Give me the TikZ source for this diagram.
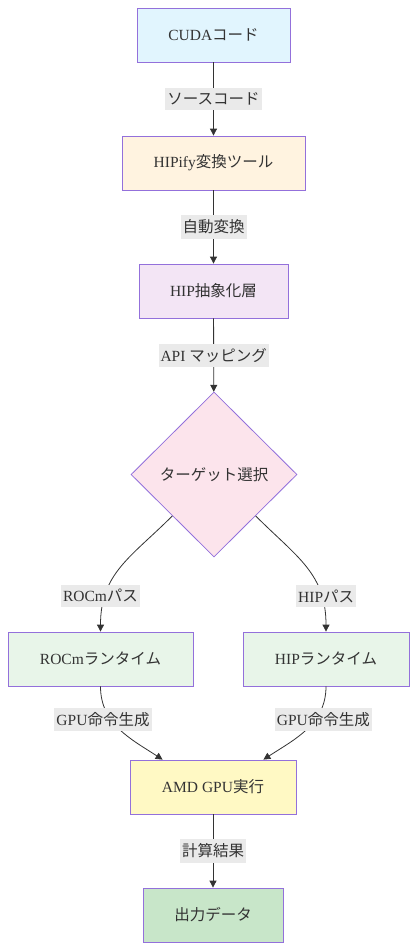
\documentclass[tikz,border=0pt]{standalone}
\usepackage{fontspec}
\setmainfont{Liberation Serif}
\newfontfamily\jp{Noto Sans CJK JP}
\usetikzlibrary{shapes.geometric,arrows.meta}
\definecolor{edgegray}{HTML}{333333}
\definecolor{boxline}{HTML}{9370DB}
\definecolor{lblbg}{HTML}{EAEAEA}
\definecolor{cudafill}{HTML}{E1F5FE}
\definecolor{hipifyfill}{HTML}{FFF3E0}
\definecolor{absfill}{HTML}{F3E5F5}
\definecolor{selfill}{HTML}{FCE4EC}
\definecolor{rtfill}{HTML}{E8F5E9}
\definecolor{gpufill}{HTML}{FFF9C4}
\definecolor{outfill}{HTML}{C8E6C9}
\begin{document}
\begin{tikzpicture}[x=1pt, y=1pt,
		font=\fontsize{15.5}{18}\selectfont, text=edgegray,
		box/.style={draw=boxline, line width=0.8pt, minimum height=54pt, inner sep=0pt},
		choice/.style={diamond, draw=boxline, line width=0.8pt, aspect=1, inner sep=0pt, minimum width=166pt, minimum height=165pt, fill=selfill},
		lbl/.style={fill=lblbg, inner xsep=2pt, inner ysep=4.5pt},
		flow/.style={draw=edgegray, line width=0.8pt, -{Triangle[length=7pt, width=7pt]}}]
	\useasboundingbox (0,0) rectangle (417,-950);
	\node[box, fill=cudafill, minimum width=153pt] (cuda) at (213.5,-35) {CUDA{\jp コード}};
	\node[box, fill=hipifyfill, minimum width=183pt] (hipify) at (213.5,-163) {HIPify{\jp 変換ツール}};
	\node[box, fill=absfill, minimum width=149pt] (hipabs) at (213.5,-291) {HIP{\jp 抽象化層}};
	\node[choice] (target) at (214,-474.5) {\jp ターゲット選択};
	\node[box, fill=rtfill, minimum width=185pt] (rocmrt) at (100.5,-659) {ROCm{\jp ランタイム}};
	\node[box, fill=rtfill, minimum width=166pt] (hiprt) at (326,-659) {HIP{\jp ランタイム}};
	\node[box, fill=gpufill, minimum width=166pt] (amdgpu) at (213,-787) {AMD GPU{\jp 実行}};
	\node[box, fill=outfill, minimum width=140pt] (output) at (213,-915) {\jp 出力データ};
	\draw[flow] (cuda) -- node[lbl] {\jp ソースコード} (hipify);
	\draw[flow] (hipify) -- node[lbl] {\jp 自動変換} (hipabs);
	\draw[flow] (hipabs) -- node[lbl] {API {\jp マッピング}} (target);
	\draw[flow] (target.south west) to[out=-135, in=90, looseness=1.1] node[lbl, pos=0.76, xshift=-5pt] {ROCm{\jp パス}} (rocmrt.north);
	\draw[flow] (target.south east) to[out=-45, in=90, looseness=1.1] node[lbl, pos=0.76, xshift=5pt] {HIP{\jp パス}} (hiprt.north);
	\draw[flow] (rocmrt.south) to[out=-90, in=147] node[lbl, pos=0.36, xshift=-8pt] {GPU{\jp 命令生成}} ([xshift=33pt]amdgpu.north west);
	\draw[flow] (hiprt.south) to[out=-90, in=33] node[lbl, pos=0.36, xshift=8pt] {GPU{\jp 命令生成}} ([xshift=-33pt]amdgpu.north east);
	\draw[flow] (amdgpu) -- node[lbl] {\jp 計算結果} (output);
\end{tikzpicture}
\end{document}
